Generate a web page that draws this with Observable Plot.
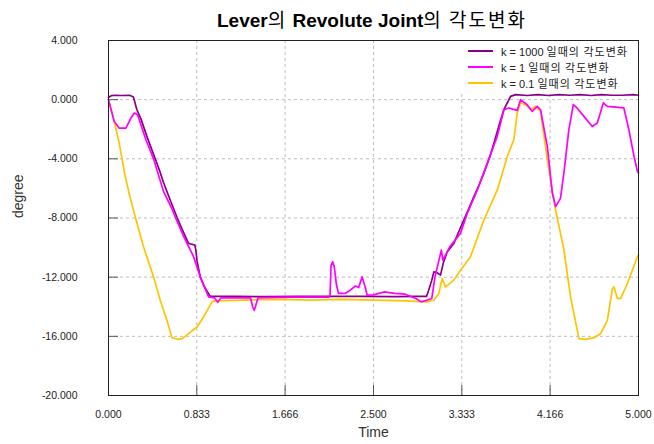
<!DOCTYPE html>
<html>
<head>
<meta charset="utf-8">
<script src="https://cdn.jsdelivr.net/npm/d3@7"></script>
<script src="https://cdn.jsdelivr.net/npm/@observablehq/plot@0.6"></script>
<style>
  body { margin: 0; background: #fff; }
  #wrap { position: relative; width: 654px; height: 444px; background: #fff; font-family: "Liberation Sans", Arial, "Noto Sans CJK KR", sans-serif; }
  #title { height: 30px; width: 654px; position: relative; }
  #title span.t { position: absolute; left: 0; width: 744px; top: 8px; text-align: center; font-size: 19px; line-height: 22px; font-weight: bold; color: #000; white-space: nowrap; }
  #title .ko { font-weight: normal; font-family: "Noto Sans CJK KR", sans-serif; letter-spacing: 2px; }
  #legend { position: absolute; left: 455px; top: 41px; width: 182px; height: 51px; background: #fff; font-size: 11px; color: #222; }
  #legend .row { position: absolute; left: 0; height: 16px; line-height: 16px; white-space: nowrap; }
  #legend .sw { position: absolute; left: 13px; top: 7px; width: 25px; height: 2px; }
  #legend .lb { position: absolute; left: 46px; top: 0; }
  #legend .ko { font-family: "Noto Sans CJK KR", sans-serif; letter-spacing: 1px; }
</style>
</head>
<body>
<div id="wrap">
  <div id="title"><span class="t">Lever<span class="ko">의</span> Revolute Joint<span class="ko">의 각도변화</span></span></div>
  <div id="chart"></div>
  <div id="legend"></div>
</div>
<script>
// ---- data (time in s, angle in degree) ----
const xTicks = [0, 0.833, 1.666, 2.5, 3.333, 4.166, 5];
const yTicks = [4, 0, -4, -8, -12, -16, -20];
const seriesNames = ["k = 1000 일때의 각도변화", "k = 1 일때의 각도변화", "k = 0.1 일때의 각도변화"];

const k1000 = [
  [0,0.15],[0.03,0.28],[0.06,0.3],[0.12,0.28],[0.2,0.3],[0.235,0.18],[0.268,-0.68],[0.306,-1.3],
  [0.368,-2.6],[0.425,-3.7],[0.48,-4.75],[0.519,-5.6],[0.58,-6.75],[0.646,-7.95],[0.7,-8.85],
  [0.755,-9.72],[0.778,-9.76],[0.815,-9.83],[0.825,-10.2],[0.835,-10.9],[0.866,-12.0],[0.9,-12.6],
  [0.96,-13.3],[1.2,-13.3],[1.5,-13.32],[1.8,-13.3],[2.1,-13.3],[2.4,-13.3],[2.7,-13.32],[2.9,-13.3],
  [3.0,-13.3],[3.02,-12.9],[3.05,-12.2],[3.069,-11.64],[3.1,-11.7],[3.132,-11.86],[3.16,-11.0],
  [3.195,-10.3],[3.258,-9.72],[3.3,-9.0],[3.352,-8.14],[3.4,-7.35],[3.447,-6.56],[3.5,-5.7],
  [3.541,-4.97],[3.6,-3.8],[3.636,-2.94],[3.69,-1.6],[3.73,-0.68],[3.793,0.22],[3.84,0.34],
  [3.95,0.28],[4.05,0.34],[4.15,0.28],[4.25,0.34],[4.35,0.3],[4.45,0.34],[4.55,0.28],[4.65,0.34],
  [4.75,0.3],[4.85,0.3],[4.95,0.34],[5.0,0.3]
];

const k1 = [
  [0,0],[0.054,-1.47],[0.1,-1.92],[0.164,-1.92],[0.212,-1.24],[0.243,-0.9],[0.274,-1.02],[0.306,-1.69],
  [0.353,-2.71],[0.425,-4.0],[0.519,-6.2],[0.6,-7.4],[0.646,-8.2],[0.7,-9.1],[0.772,-10.17],
  [0.803,-10.62],[0.866,-11.98],[0.944,-13.33],[1.0,-13.4],[1.03,-13.7],[1.06,-13.4],[1.34,-13.4],
  [1.36,-14.0],[1.375,-14.24],[1.39,-13.9],[1.41,-13.4],[1.7,-13.35],[2.08,-13.35],[2.09,-13.2],
  [2.1,-11.2],[2.115,-10.96],[2.13,-11.3],[2.15,-12.5],[2.17,-13.1],[2.188,-13.1],[2.23,-13.1],
  [2.28,-12.88],[2.33,-12.6],[2.36,-12.7],[2.393,-11.98],[2.425,-12.77],[2.44,-13.22],[2.5,-13.2],
  [2.55,-13.1],[2.6,-13.0],[2.7,-13.1],[2.8,-13.15],[2.9,-13.44],[2.95,-13.67],[3.0,-13.56],
  [3.05,-13.44],[3.08,-11.98],[3.14,-10.17],[3.155,-10.85],[3.22,-9.94],[3.32,-9.04],[3.385,-7.68],
  [3.48,-6.1],[3.574,-4.29],[3.667,-2.49],[3.73,-0.68],[3.777,-0.56],[3.856,-0.72],[3.887,0.0],
  [3.95,-0.34],[3.997,-0.79],[4.045,-0.45],[4.076,-0.68],[4.14,-3.17],[4.187,-6.33],[4.218,-7.23],
  [4.264,-6.67],[4.296,-4.97],[4.343,-2.03],[4.385,-0.34],[4.42,-0.56],[4.485,-1.13],[4.564,-1.81],
  [4.611,-1.58],[4.668,-0.22],[4.705,-0.45],[4.862,-0.56],[4.909,-2.03],[4.958,-3.84],[4.99,-4.86],
  [5.0,-4.95]
];

const k01 = [
  [0,0],[0.054,-1.47],[0.1,-2.9],[0.158,-5.2],[0.2,-6.5],[0.252,-7.91],[0.33,-9.94],[0.425,-11.98],
  [0.488,-13.56],[0.551,-14.92],[0.599,-16.09],[0.65,-16.2],[0.693,-16.16],[0.755,-15.82],
  [0.835,-15.37],[0.897,-14.69],[0.976,-13.67],[1.008,-13.6],[1.3,-13.55],[1.6,-13.5],[1.9,-13.55],
  [2.2,-13.5],[2.5,-13.55],[2.8,-13.6],[3.0,-13.67],[3.04,-13.6],[3.069,-13.56],[3.116,-13.1],
  [3.148,-12.09],[3.179,-12.66],[3.258,-12.2],[3.321,-11.53],[3.415,-10.62],[3.541,-8.14],
  [3.668,-6.1],[3.762,-3.84],[3.824,-2.71],[3.856,-0.9],[3.887,-0.22],[3.934,-0.34],[3.982,-0.68],
  [4.029,-0.45],[4.076,-0.79],[4.14,-4.07],[4.218,-7.46],[4.297,-10.17],[4.359,-13.33],[4.438,-16.16],
  [4.5,-16.2],[4.58,-16.09],[4.643,-15.82],[4.706,-14.92],[4.754,-12.77],[4.769,-12.66],[4.801,-13.44],
  [4.832,-13.44],[4.895,-12.43],[4.99,-10.62],[5.0,-10.5]
];

// ---- styles ----
const seriesColors = ["#880088", "#ff00ff", "#ffc400"];
const fmt = d => d.toFixed(3);

const rows = [];
[k1000, k1, k01].forEach((arr, i) => arr.forEach(([t, v]) => rows.push({t, v, series: seriesNames[i]})));

const grid = {stroke: "#bdbdbd", strokeOpacity: 1, strokeDasharray: "3,3", strokeWidth: 1};

const chart = Plot.plot({
  width: 654,
  height: 414,
  marginTop: 10,
  marginBottom: 49,
  marginLeft: 108,
  marginRight: 16,
  style: {fontFamily: "'Liberation Sans', Arial, sans-serif", fontSize: "10.5px", color: "#222", background: "#fff"},
  x: {domain: [0, 5], label: null},
  y: {domain: [-20, 4], label: null},
  color: {domain: seriesNames, range: seriesColors},
  marks: [
    Plot.gridX(xTicks, grid),
    Plot.gridY(yTicks, grid),
    Plot.axisX(xTicks, {tickSize: 0, tickPadding: 15, tickFormat: fmt, label: null, fill: "#222"}),
    Plot.axisX(xTicks, {tickSize: 10, dy: -10, tickFormat: () => "", label: null, stroke: "#555"}),
    Plot.axisY(yTicks, {tickSize: 0, tickPadding: 31, tickFormat: fmt, label: null, fill: "#222"}),
    Plot.axisY(yTicks, {tickSize: 10, dx: 10, tickFormat: () => "", label: null, stroke: "#555"}),
    Plot.line(rows.filter(d => d.series === seriesNames[2]), {x: "t", y: "v", stroke: "series", strokeWidth: 1.7}),
    Plot.line(rows.filter(d => d.series === seriesNames[0]), {x: "t", y: "v", stroke: "series", strokeWidth: 1.7}),
    Plot.line(rows.filter(d => d.series === seriesNames[1]), {x: "t", y: "v", stroke: "series", strokeWidth: 1.7}),
    Plot.frame({stroke: "#222"}),
    Plot.text(["Time"], {text: d => d, frameAnchor: "bottom", dy: 41, fontSize: 14, fill: "#333"}),
    Plot.text(["degree"], {text: d => d, frameAnchor: "left", dx: -90, rotate: -90, fontSize: 14, fill: "#333"})
  ]
});
document.getElementById("chart").appendChild(chart);

// legend (inside plot, top-right)
const legend = document.getElementById("legend");
seriesNames.forEach((name, i) => {
  const row = document.createElement("div");
  row.className = "row";
  row.style.top = (2 + i * 16) + "px";
  row.style.width = "182px";
  const sw = document.createElement("span");
  sw.className = "sw";
  sw.style.background = seriesColors[i];
  const lb = document.createElement("span");
  lb.className = "lb";
  const m = name.match(/^(k = [\d.]+ )(.*)$/);
  lb.innerHTML = m[1] + '<span class="ko">' + m[2] + '</span>';
  row.appendChild(sw);
  row.appendChild(lb);
  legend.appendChild(row);
});
</script>
</body>
</html>
